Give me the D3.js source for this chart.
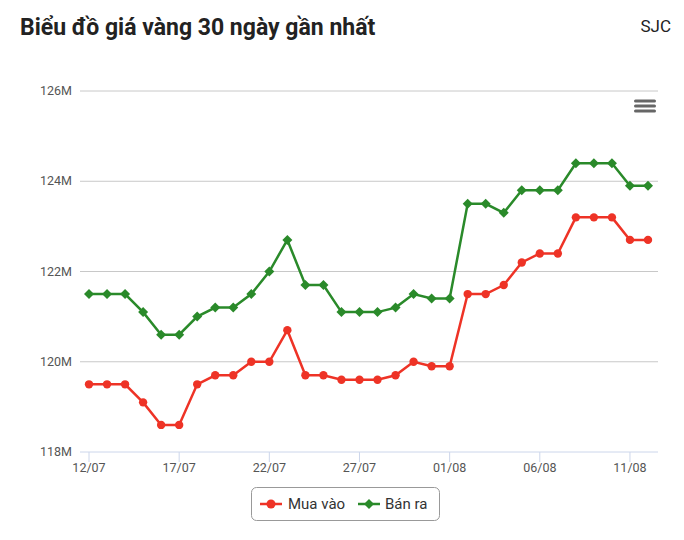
<!DOCTYPE html>
<html><head><meta charset="utf-8">
<script src="https://cdn.jsdelivr.net/npm/d3@7"></script>
<style>body{margin:0;background:#fff;font-family:Roboto,"Open Sans",sans-serif}</style>
</head><body><svg></svg>
<script>
const days = ["12/07","13/07","14/07","15/07","16/07","17/07","18/07","19/07","20/07","21/07","22/07","23/07","24/07","25/07","26/07","27/07","28/07","29/07","30/07","31/07","01/08","02/08","03/08","04/08","05/08","06/08","07/08","08/08","09/08","10/08","11/08","12/08"];
const muaVao = [119.5,119.5,119.5,119.1,118.6,118.6,119.5,119.7,119.7,120.0,120.0,120.7,119.7,119.7,119.6,119.6,119.6,119.7,120.0,119.9,119.9,121.5,121.5,121.7,122.2,122.4,122.4,123.2,123.2,123.2,122.7,122.7];
const banRa = [121.5,121.5,121.5,121.1,120.6,120.6,121.0,121.2,121.2,121.5,122.0,122.7,121.7,121.7,121.1,121.1,121.1,121.2,121.5,121.4,121.4,123.5,123.5,123.3,123.8,123.8,123.8,124.4,124.4,124.4,123.9,123.9];
const yTicks = [118,120,122,124,126];
const xTickLabels = ["12/07","17/07","22/07","27/07","01/08","06/08","11/08"];

const svg = d3.select("svg").attr("width",684).attr("height",540);
const x = d3.scalePoint().domain(days).range([89,648]);
const y = d3.scaleLinear().domain([118,126]).range([452,91]);

svg.append("text").attr("x",20).attr("y",35).attr("font-size",23).attr("font-weight","bold").attr("fill","#222").text("Biểu đồ giá vàng 30 ngày gần nhất");
svg.append("text").attr("x",671).attr("y",32).attr("text-anchor","end").attr("font-size",17).attr("fill","#222").text("SJC");

const gy = svg.append("g");
yTicks.forEach(t=>{
  gy.append("line").attr("x1",80).attr("x2",658).attr("y1",y(t)).attr("y2",y(t)).attr("stroke",t===118?"#ccd6eb":"#c8c8c8").attr("stroke-width",1);
  gy.append("text").attr("x",72).attr("y",y(t)+4).attr("text-anchor","end").attr("font-size",12.5).attr("fill","#555").text(t+"M");
});
const gx = svg.append("g");
xTickLabels.forEach(d=>{
  gx.append("line").attr("x1",x(d)).attr("x2",x(d)).attr("y1",452).attr("y2",462).attr("stroke","#ccd6eb");
  gx.append("text").attr("x",x(d)).attr("y",472).attr("text-anchor","middle").attr("font-size",12.5).attr("fill","#555").text(d);
});

// menu icon
[101,106,111].forEach(yy=>svg.append("rect").attr("x",634).attr("y",yy-1.5).attr("width",22).attr("height",3).attr("rx",1.5).attr("fill","#666"));

const line = d3.line().x((d,i)=>x(days[i])).y(d=>y(d));
function series(vals,color,shape){
  svg.append("path").datum(vals).attr("d",line).attr("fill","none").attr("stroke",color).attr("stroke-width",2.5);
  const sym = d3.symbol().type(shape).size(shape===d3.symbolCircle?55:50);
  svg.append("g").selectAll("path").data(vals).enter().append("path")
    .attr("d",sym).attr("fill",color)
    .attr("transform",(d,i)=>`translate(${x(days[i])},${y(d)})${shape===d3.symbolCircle?"":" rotate(45)"}`);
}
series(banRa,"#2a8a2a",d3.symbolSquare);
series(muaVao,"#ee3326",d3.symbolCircle);

// legend
const lg = svg.append("g");
lg.append("rect").attr("x",251.5).attr("y",487.5).attr("width",188).attr("height",33).attr("rx",5).attr("fill","#fff").attr("stroke","#999");
lg.append("line").attr("x1",260).attr("x2",282).attr("y1",504).attr("y2",504).attr("stroke","#ee3326").attr("stroke-width",2.5);
lg.append("circle").attr("cx",271).attr("cy",504).attr("r",4.5).attr("fill","#ee3326");
lg.append("text").attr("x",288).attr("y",509).attr("font-size",15).attr("fill","#333").text("Mua vào");
lg.append("line").attr("x1",358).attr("x2",380).attr("y1",504).attr("y2",504).attr("stroke","#2a8a2a").attr("stroke-width",2.5);
lg.append("path").attr("d",d3.symbol().type(d3.symbolSquare).size(50)).attr("fill","#2a8a2a").attr("transform","translate(369,504) rotate(45)");
lg.append("text").attr("x",385).attr("y",509).attr("font-size",15).attr("fill","#333").text("Bán ra");
</script></body></html>
